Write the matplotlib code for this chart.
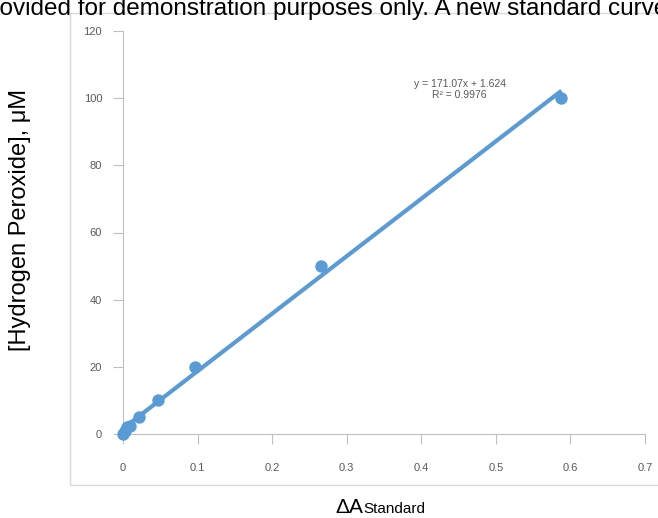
import matplotlib.pyplot as plt
from matplotlib.patches import Rectangle
import numpy as np

plt.rcParams['font.family'] = ['Liberation Sans', 'DejaVu Sans']

# standard curve data
delta_a = [0.0, 0.003, 0.006, 0.009, 0.022, 0.047, 0.097, 0.266, 0.588]
conc = [0.0, 1.0, 2.0, 2.5, 5.0, 10.0, 20.0, 50.0, 100.0]
slope = 171.07
intercept = 1.624
r2 = 0.9976
x_ticks = [0, 0.1, 0.2, 0.3, 0.4, 0.5, 0.6, 0.7]
y_ticks = [0, 20, 40, 60, 80, 100, 120]

blue = '#5B9BD5'
grey = '#595959'
axis_grey = '#BFBFBF'

W, H = 658, 518
fig = plt.figure(figsize=(W / 100, H / 100), dpi=100)

# chart box
fig.patches.append(Rectangle((70 / W, 33 / H), 0.95, 472 / H,
                             transform=fig.transFigure, fill=False,
                             edgecolor='#D9D9D9', linewidth=1))

ax = fig.add_axes([123 / W, 84 / H, 522 / W, 403 / H])

# trendline
xs = np.array([0, max(delta_a)])
ax.plot(xs, slope * xs + intercept, color=blue, linewidth=3, zorder=2,
        solid_capstyle='butt')
ax.scatter(delta_a, conc, s=80, color=blue, zorder=3, linewidths=0)

ax.set_xlim(0, 0.7)
ax.set_ylim(0, 120)
ax.set_xticks(x_ticks)
ax.set_xticklabels(['0', '0.1', '0.2', '0.3', '0.4', '0.5', '0.6', '0.7'])
ax.set_yticks(y_ticks)
for s in ['top', 'right']:
    ax.spines[s].set_visible(False)
for s in ['left', 'bottom']:
    ax.spines[s].set_color(axis_grey)
ax.tick_params(colors=axis_grey, labelcolor=grey, labelsize=8, length=7)
ax.tick_params(axis='x', pad=14)
ax.tick_params(axis='y', pad=8)
for c in ax.collections:
    c.set_clip_on(False)

ax.text(0.645, 0.855, 'y = 171.07x + 1.624\nR\u00b2 = 0.9976', transform=ax.transAxes,
        ha='center', va='center', fontsize=7.5, color=grey, linespacing=1.1)

fig.text(20 / W, 1 - 220 / H, '[Hydrogen Peroxide], \u03bcM', rotation=90,
         ha='center', va='center', fontsize=17)

# x label: large delta A with smaller "Standard" on the same baseline
fig.text(363 / W, 1 - 513 / H, '\u0394A', ha='right', va='baseline', fontsize=15)
fig.text(363 / W, 1 - 513 / H, 'Standard', ha='left', va='baseline', fontsize=11)

fig.text(-22 / W, 1 - 15 / H,
         'provided for demonstration purposes only. A new standard curve must be',
         ha='left', va='baseline', fontsize=17.5)

fig.savefig('out.png', dpi=100)
